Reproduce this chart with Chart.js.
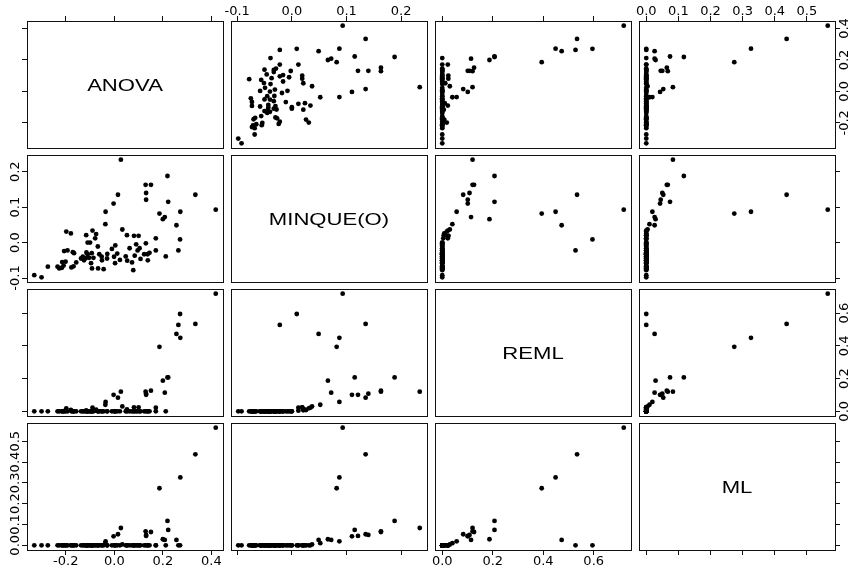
<!DOCTYPE html>
<html>
<head>
<meta charset="utf-8">
<script src="https://cdn.jsdelivr.net/npm/chart.js@4.4.1/dist/chart.umd.min.js"></script>
<style>
  html, body { margin: 0; padding: 0; background: #fff; }
  #matrix { position: relative; width: 848px; height: 569px; overflow: hidden; background: #fff; }
  #matrix canvas { position: absolute; }
</style>
</head>
<body>
<div id="matrix"></div>
<script>
// Variance component estimates, one entry per simulated data set
const varNames = ['ANOVA', 'MINQUE(O)', 'REML', 'ML'];

const anova = [
   0.418,  0.334,  0.272,  0.186,  0.271,  0.264,  0.256,  0.219,  0.222,  0.200,
   0.208,  0.151,  0.129,  0.131,  0.131,  0.027, -0.003,  0.015, -0.036, -0.037,
   0.033, -0.090, -0.198,  0.171,  0.081,  0.100, -0.179, -0.116, -0.075,  0.052,
  -0.079, -0.110, -0.100,  0.130,  0.004,  0.090, -0.068, -0.010,  0.063,  0.104,
   0.096, -0.207, -0.193, -0.171, -0.166, -0.115, -0.093, -0.110, -0.062, -0.029,
   0.012,  0.145,  0.137,  0.171, -0.130, -0.118, -0.104, -0.086, -0.052, -0.001,
   0.047,  0.084,  0.123,  0.212, -0.137, -0.215, -0.201, -0.157, -0.125, -0.096,
  -0.051, -0.030,  0.023,  0.053,  0.073,  0.108,  0.138, -0.274, -0.234, -0.227,
  -0.209, -0.216, -0.177, -0.168, -0.092, -0.067, -0.044,  0.003,  0.078, -0.330,
  -0.300
];

const minque = [
   0.093,  0.135,  0.087,  0.082,  0.009, -0.022,  0.049,  0.188,  0.115,  0.066,
   0.072,  0.163,  0.163,  0.140,  0.121,  0.234,  0.110,  0.135,  0.087,  0.052,
   0.037,  0.034,  0.031,  0.012,  0.019,  0.019,  0.026,  0.021,  0.024,  0.021,
   0.012,  0.000,  0.000, -0.002, -0.008, -0.005, -0.011, -0.018, -0.016, -0.016,
  -0.022, -0.024, -0.022, -0.027, -0.030, -0.028, -0.030, -0.033, -0.033, -0.032,
  -0.031, -0.029, -0.033, -0.022, -0.040, -0.044, -0.043, -0.043, -0.040, -0.040,
  -0.039, -0.037, -0.033, -0.039, -0.045, -0.055, -0.054, -0.056, -0.050, -0.058,
  -0.050, -0.045, -0.049, -0.051, -0.056, -0.046, -0.050, -0.068, -0.068, -0.073,
  -0.065, -0.071, -0.070, -0.067, -0.073, -0.073, -0.075, -0.058, -0.078, -0.092,
  -0.098
];

const reml = [
  0.719, 0.534, 0.449, 0.394, 0.595, 0.528, 0.473, 0.207, 0.207, 0.187,
  0.114, 0.126, 0.120, 0.108, 0.101, 0.120, 0.101, 0.083, 0.057, 0.040,
  0.030, 0.022, 0.018, 0.022, 0.024, 0.024, 0.008, 0.006, 0.010, 0.012,
  0.004, 0, 0, 0, 0, 0, 0, 0, 0, 0,
  0, 0, 0, 0, 0, 0, 0, 0, 0, 0,
  0, 0, 0, 0, 0, 0, 0, 0, 0, 0,
  0, 0, 0, 0, 0, 0, 0, 0, 0, 0,
  0, 0, 0, 0, 0, 0, 0, 0, 0, 0,
  0, 0, 0, 0, 0, 0, 0, 0, 0, 0,
  0
];

const ml = [
  0.565, 0.437, 0.326, 0.274, 0, 0, 0.026, 0.117, 0.074, 0.029,
  0.026, 0.064, 0.067, 0.050, 0.045, 0.083, 0.043, 0.053, 0.019, 0.010,
  0.004, 0, 0, 0, 0, 0, 0, 0, 0, 0,
  0, 0, 0, 0, 0, 0, 0, 0, 0, 0,
  0, 0, 0, 0, 0, 0, 0, 0, 0, 0,
  0, 0, 0, 0, 0, 0, 0, 0, 0, 0,
  0, 0, 0, 0, 0, 0, 0, 0, 0, 0,
  0, 0, 0, 0, 0, 0, 0, 0, 0, 0,
  0, 0, 0, 0, 0, 0, 0, 0, 0, 0,
  0
];

const tickValues = [
  [-0.2, 0.0, 0.2, 0.4],
  [-0.1, 0.0, 0.1, 0.2],
  [0.0, 0.2, 0.4, 0.6],
  [0.0, 0.1, 0.2, 0.3, 0.4, 0.5]
];
const tickLabels = [
  ['-0.2', '0.0', '0.2', '0.4'],
  ['-0.1', '0.0', '0.1', '0.2'],
  ['0.0', '0.2', '0.4', '0.6'],
  ['0.0', '0.1', '0.2', '0.3', '0.4', '0.5']
];

const series = [anova, minque, reml, ml];

// panel grid
const PANEL_W = 196;
const PANEL_H = 127;
const colLeft = [27, 231, 435, 639];
const rowTop = [21, 155, 289, 423];
const MARGIN = 30;
const TICK_LEN = 5;
const TICK_FONT = '"DejaVu Sans", sans-serif';
const TICK_SIZE = 13;

// axis limits padded by 4% like base graphics
function paddedRange(values) {
  const lo = Math.min(...values);
  const hi = Math.max(...values);
  const pad = (hi - lo) * 0.04;
  return { min: lo - pad, max: hi + pad };
}
const ranges = series.map(paddedRange);

const measureCtx = document.createElement('canvas').getContext('2d');
measureCtx.font = TICK_SIZE + 'px ' + TICK_FONT;
function widestLabel(idx) {
  return Math.max(...tickLabels[idx].map(t => measureCtx.measureText(t).width));
}

function axisConfig(idx, position, showTicks, showLabels) {
  const vertical = position === 'left' || position === 'right';
  let padding = 0;
  if (position === 'top') padding = -3;
  if (position === 'bottom') padding = -1;
  if (position === 'left') padding = 6.5 - widestLabel(idx) / 2;
  if (position === 'right') padding = 5 - widestLabel(idx) / 2;
  return {
    type: 'linear',
    position: position,
    min: ranges[idx].min,
    max: ranges[idx].max,
    display: true,
    afterFit: scale => {
      if (vertical) scale.width = MARGIN;
      else scale.height = MARGIN;
    },
    afterBuildTicks: scale => {
      scale.ticks = tickValues[idx].map(v => ({ value: v }));
    },
    border: { display: true, color: '#111', width: 1 },
    grid: {
      display: showTicks,
      drawOnChartArea: false,
      drawTicks: true,
      tickLength: TICK_LEN,
      color: '#111',
      lineWidth: 1
    },
    ticks: {
      display: showLabels,
      autoSkip: false,
      minRotation: vertical ? 90 : 0,
      maxRotation: vertical ? 90 : 0,
      crossAlign: vertical ? 'center' : 'near',
      padding: padding,
      color: '#000',
      font: { family: TICK_FONT, size: TICK_SIZE },
      callback: (value, index) => tickLabels[idx][index]
    }
  };
}

// variable name in the diagonal panels
const panelTitle = {
  id: 'panelTitle',
  afterDraw(chart, args, opts) {
    if (!opts.text) return;
    const { ctx, chartArea } = chart;
    ctx.save();
    ctx.translate((chartArea.left + chartArea.right) / 2, (chartArea.top + chartArea.bottom) / 2 + 1.5);
    ctx.scale(1.3, 1);
    ctx.font = '17px "Liberation Sans", Arial, sans-serif';
    ctx.fillStyle = '#000';
    ctx.textAlign = 'center';
    ctx.textBaseline = 'middle';
    ctx.fillText(opts.text, 0, 0);
    ctx.restore();
  }
};

const container = document.getElementById('matrix');

for (let i = 0; i < 4; i++) {
  for (let j = 0; j < 4; j++) {
    const canvas = document.createElement('canvas');
    canvas.width = PANEL_W + 2 * MARGIN;
    canvas.height = PANEL_H + 2 * MARGIN;
    canvas.style.left = (colLeft[j] - MARGIN) + 'px';
    canvas.style.top = (rowTop[i] - MARGIN) + 'px';
    container.appendChild(canvas);

    const points = i === j ? [] : series[j].map((v, k) => ({ x: v, y: series[i][k] }));

    new Chart(canvas, {
      type: 'scatter',
      data: {
        datasets: i === j ? [] : [{
          data: points,
          pointRadius: 2.4,
          pointHoverRadius: 2.4,
          pointBackgroundColor: '#000',
          pointBorderWidth: 0,
          borderColor: '#000'
        }]
      },
      options: {
        responsive: false,
        animation: false,
        events: [],
        devicePixelRatio: 1,
        layout: { padding: 0 },
        scales: {
          x: axisConfig(j, 'bottom', i === 3, i === 3 && j % 2 === 0),
          xTop: axisConfig(j, 'top', i === 0, i === 0 && j % 2 === 1),
          y: axisConfig(i, 'left', j === 0, j === 0 && i % 2 === 1),
          yRight: axisConfig(i, 'right', j === 3, j === 3 && i % 2 === 0)
        },
        plugins: {
          legend: { display: false },
          tooltip: { enabled: false },
          panelTitle: { text: i === j ? varNames[i] : '' }
        }
      },
      plugins: [panelTitle]
    });
  }
}
</script>
</body>
</html>
